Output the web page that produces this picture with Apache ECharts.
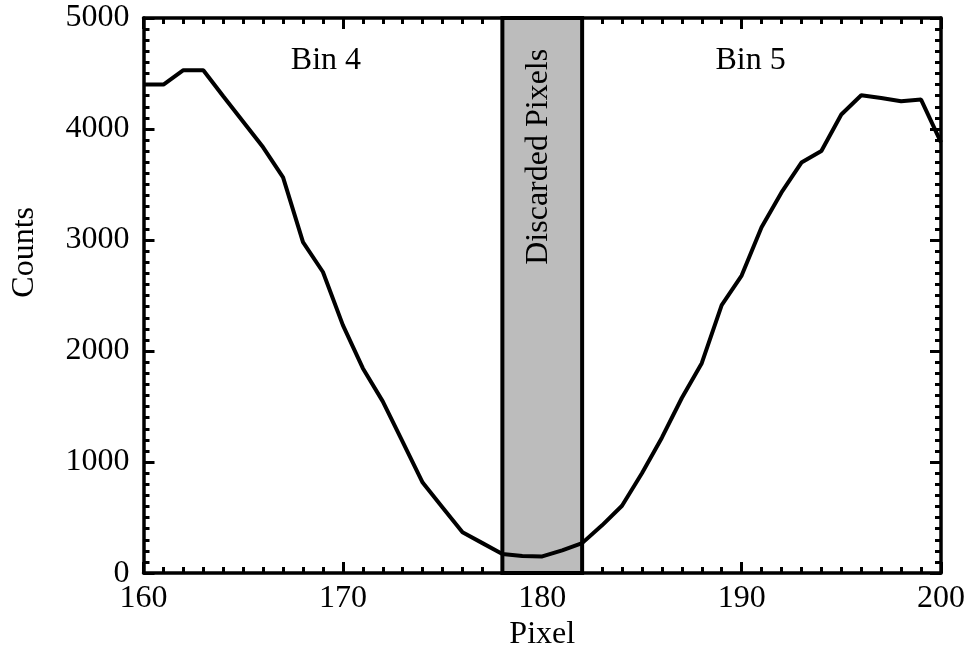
<!DOCTYPE html>
<html>
<head>
<meta charset="utf-8">
<script src="https://cdn.jsdelivr.net/npm/echarts@6/dist/echarts.min.js"></script>
<style>html,body{margin:0;padding:0;background:#fff}#c{width:974px;height:656px}</style>
</head>
<body>
<div id="c"></div>
<script>
const pixels = [160,161,162,163,164,165,166,167,168,169,170,171,172,173,174,175,176,177,178,179,180,181,182,183,184,185,186,187,188,189,190,191,192,193,194,195,196,197,198,199,200];
const counts = [4400,4400,4530,4530,4295,4065,3835,3565,2981,2712,2234,1846,1547,1183,815,591,367,270,173,155,150,205,270,430,607,900,1220,1577,1891,2413,2680,3115,3429,3698,3802,4131,4304,4280,4250,4265,3880];
const bandRange = [178, 182];
const annotations = [
  {text: 'Bin 4', x: 169.15, y: 4620, rotate: 0},
  {text: 'Bin 5', x: 190.45, y: 4620, rotate: 0},
  {text: 'Discarded Pixels', x: 179.8, y: 3750, rotate: 90}
];
const xTicks = {min: 160, max: 200, interval: 10};
const yTicks = {min: 0, max: 5000, interval: 1000};

const FONT = 'Liberation Serif';
const FS = 32;
const chart = echarts.init(document.getElementById('c'), null, {renderer: 'canvas'});

function axisCommon(show) {
  return {
    axisLine: {show: true, onZero: false, lineStyle: {color: '#000', width: 3.5}},
    axisTick: {show: true, inside: true, length: 11, lineStyle: {color: '#000', width: 3}},
    minorTick: {show: true, splitNumber: 10, length: 6, lineStyle: {color: '#000', width: 3}},
    splitLine: {show: false},
    axisLabel: {show: show, color: '#000', fontFamily: FONT, fontSize: FS}
  };
}

const option = {
  animation: false,
  backgroundColor: '#fff',
  grid: {left: 143.5, right: 33, top: 18, bottom: 80, containLabel: false},
  xAxis: [
    Object.assign({type: 'value', position: 'bottom', min: xTicks.min, max: xTicks.max, interval: xTicks.interval,
      name: 'Pixel', nameLocation: 'middle', nameGap: 41,
      nameTextStyle: {color: '#000', fontFamily: FONT, fontSize: FS}}, axisCommon(true),
      {axisLabel: {show: true, color: '#000', fontFamily: FONT, fontSize: FS, margin: 9, formatter: v => String(v)}}),
    Object.assign({type: 'value', position: 'top', min: xTicks.min, max: xTicks.max, interval: xTicks.interval}, axisCommon(false))
  ],
  yAxis: [
    Object.assign({type: 'value', position: 'left', min: yTicks.min, max: yTicks.max, interval: yTicks.interval}, axisCommon(true),
      {axisLabel: {show: true, color: '#000', fontFamily: FONT, fontSize: FS, margin: 14, formatter: v => String(v)}}),
    Object.assign({type: 'value', position: 'right', min: yTicks.min, max: yTicks.max, interval: yTicks.interval}, axisCommon(false))
  ],
  graphic: [{
    type: 'text', left: 9, top: 207,
    rotation: Math.PI / 2,
    style: {text: 'Counts', fill: '#000', font: FS + 'px "' + FONT + '"'},
    originX: 0, originY: 0
  }],
  series: [
    {
      type: 'line',
      xAxisIndex: 0, yAxisIndex: 0,
      data: pixels.map((p, i) => [p, counts[i]]),
      symbol: 'none',
      lineStyle: {color: '#000', width: 4},
      z: 5,
      markArea: {
        silent: true,
        itemStyle: {color: '#bcbcbc', opacity: 1, borderColor: '#000', borderWidth: 4},
        data: [[{xAxis: bandRange[0]}, {xAxis: bandRange[1]}]]
      }
    },
    {
      type: 'scatter',
      xAxisIndex: 0, yAxisIndex: 0,
      symbolSize: 1,
      silent: true,
      z: 6,
      itemStyle: {opacity: 1, color: 'rgba(0,0,0,0)'},
      data: annotations.map(a => ({value: [a.x, a.y], name: a.text,
        label: {show: true, position: 'inside', formatter: a.text, rotate: a.rotate,
          color: '#000', opacity: 1, fontFamily: FONT, fontSize: FS}}))
    }
  ]
};
chart.setOption(option);
</script>
</body>
</html>
